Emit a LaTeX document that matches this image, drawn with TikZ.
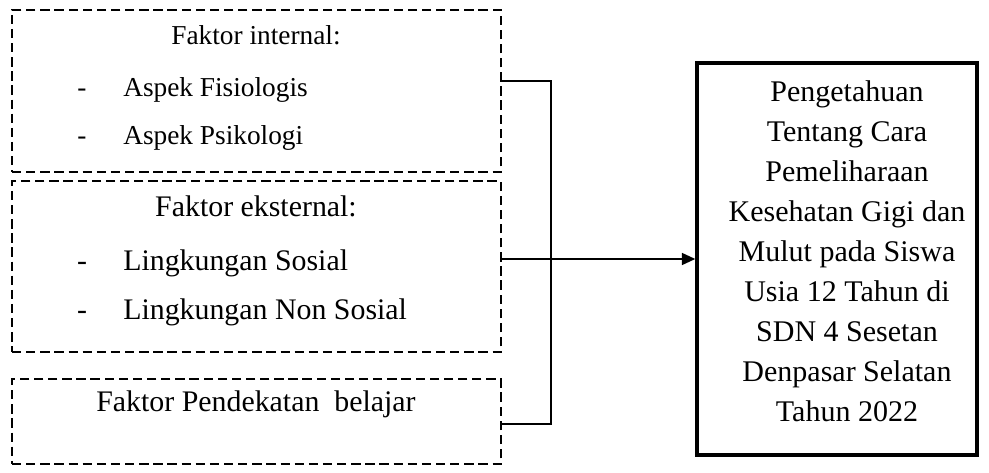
\documentclass[tikz,border=0pt]{standalone}
\usepackage{fontspec}
\setmainfont{Liberation Serif}
\usetikzlibrary{arrows.meta,fit}
\begin{document}
\begin{tikzpicture}[x=0.75pt,y=-0.75pt,
  dbox/.style={draw, dash pattern=on 7pt off 3.6pt, line width=1.5pt, inner sep=0pt},
  rbox/.style={draw, line width=2.6pt, inner sep=0pt, minimum width=210pt, minimum height=294pt},
  rtext/.style={align=center, inner sep=0pt, font=\fontsize{22.5}{30}\selectfont},
  conn/.style={draw, line width=1.1pt},
  fa/.style={font=\fontsize{20.5}{24}\selectfont, inner sep=0pt, anchor=base},
  fb/.style={font=\fontsize{22.4}{26}\selectfont, inner sep=0pt, anchor=base},
  itema/.style={fa, anchor=base west},
  itemb/.style={fb, anchor=base west}]
\useasboundingbox (0,0) rectangle (989,473);
% left dashed boxes
\node[dbox, fit={(12,10) (501,172)}] (b1) {};
\node[dbox, fit={(12,181) (501,352)}] (b2) {};
\node[dbox, fit={(12,379) (501,464)}] (b3) {};
% result box
\node[rbox] (res) at (837,259) {};
\node[rtext] (restext) at (847,251) {Pengetahuan\\Tentang Cara\\Pemeliharaan\\Kesehatan Gigi dan\\Mulut pada Siswa\\Usia 12 Tahun di\\SDN 4 Sesetan\\Denpasar Selatan\\Tahun 2022};
% box 1 texts
\node[fa] (t1) at (256,45) {Faktor internal:};
\node[fa] (d11) at (82,97) {-};
\node[itema] (i11) at (123,97) {Aspek Fisiologis};
\node[fa] (d12) at (82,145) {-};
\node[itema] (i12) at (123,145) {Aspek Psikologi};
% box 2 texts
\node[fb] (t2) at (256,217) {Faktor eksternal:};
\node[fb] (d21) at (82,271) {-};
\node[itemb] (i21) at (123,271) {Lingkungan Sosial};
\node[fb] (d22) at (82,320) {-};
\node[itemb] (i22) at (123,320) {Lingkungan Non Sosial};
% box 3 text
\node[fb] (t3) at (256,412) {Faktor Pendekatan\ \ belajar};
% connectors
\coordinate (r1) at (0,81);
\coordinate (r3) at (0,424);
\coordinate (bus) at (551,81);
\draw[conn] (b1.east |- r1) -| (bus) |- (b3.east |- r3);
\draw[conn, -{Triangle[length=10pt,width=9pt]}] (b2.east |- res.west) -- (res.west);
\end{tikzpicture}
\end{document}
